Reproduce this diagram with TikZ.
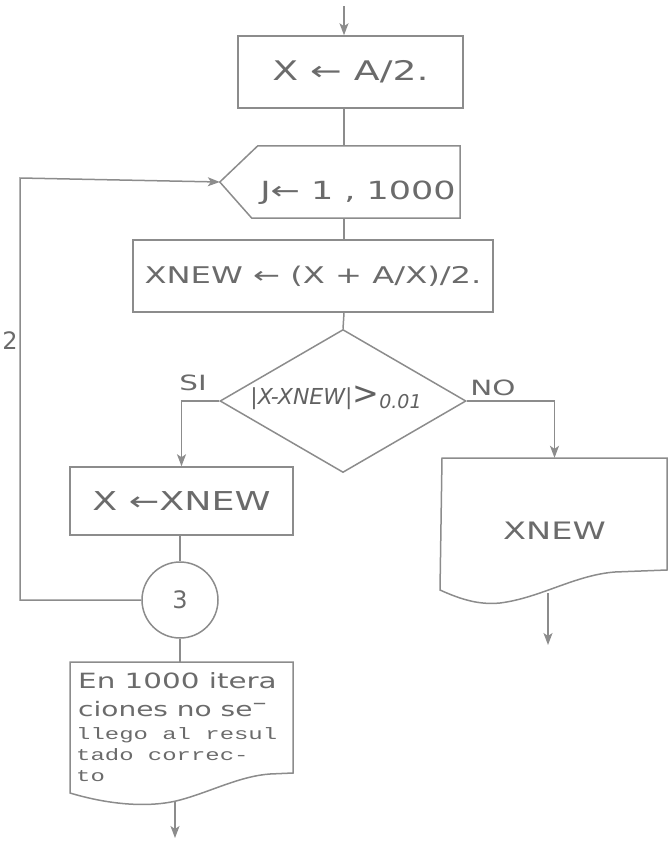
\documentclass[tikz,border=0pt]{standalone}
\usepackage{fontspec}
\setmainfont{DejaVu Sans}
\newfontfamily\wide[FakeStretch=1.4]{DejaVu Sans}
\newfontfamily\typew[FakeStretch=1.45]{Liberation Mono}
\usetikzlibrary{shapes.geometric,arrows.meta}
\tikzset{
  ln/.style={draw=black!45, line width=1.5pt},
  arr/.style={ln, -{Stealth[length=12pt,width=9pt,inset=3pt]}},
  txt/.style={text=black!58, inner sep=0pt},
  procbox/.style={ln, rectangle, inner sep=0pt, text=black!58},
  ghost/.style={draw=none, rectangle, inner sep=0pt},
}
\begin{document}
\begin{tikzpicture}[x=1pt,y=-1pt]
\useasboundingbox (0,0) rectangle (670,844);

% start
\coordinate (start) at (344,6);
% box 1
\node[procbox, minimum width=225pt, minimum height=72pt,
      font=\wide\fontsize{27}{30}\selectfont] (b1) at (350.5,72) {X ← A/2.};

% loop (preparation) shape
\node[ghost, minimum width=240pt, minimum height=72pt] (lp) at (340,182) {};
\draw[ln] (lp.west) -- ([xshift=38pt]lp.north west) -- (lp.north east)
          -- (lp.south east) -- ([xshift=32pt]lp.south west) -- cycle;
\node[txt, font=\wide\fontsize{25}{28}\selectfont] (jt) at (358,193) {J← 1 , 1000};

% box 3
\node[procbox, minimum width=360pt, minimum height=72pt,
      font=\wide\fontsize{23}{26}\selectfont] (b3) at (313,276) {XNEW ← (X + A/X)/2.};

% decision
\node[ln, diamond, minimum width=246pt, minimum height=143pt, inner sep=0pt] (d) at (343,401) {};
\node[txt, text=black!62] (dt) at (336,398)
  {{\itshape\fontsize{22}{24}\selectfont |X-XNEW|}{\fontsize{32}{32}\selectfont >}\raisebox{-4pt}{\itshape\fontsize{19}{19}\selectfont 0.01}};
\node[txt, font=\wide\fontsize{21}{24}\selectfont] (si) at (193,383) {SI};
\node[txt, font=\wide\fontsize{21}{24}\selectfont] (no) at (493,388) {NO};

% box 4
\node[procbox, minimum width=223pt, minimum height=68pt,
      font=\wide\fontsize{26}{28}\selectfont] (b4) at (181.5,501) {X ←XNEW};

% connector circle
\node[ln, circle, minimum size=76pt, inner sep=0pt, text=black!58,
      font=\fontsize{24}{26}\selectfont] (c) at (180,600) {3};

% output document XNEW
\node[ghost, minimum width=225pt, minimum height=145pt, text=black!58,
      font=\wide\fontsize{24}{26}\selectfont] (out) at (554.5,530.5) {XNEW};
\draw[ln] (442,458) -- (667,458) -- (667,570) -- (615,572)
   .. controls (575,575) and (540,598) .. (500,603)
   .. controls (480,605) and (462,600) .. (440,590) -- cycle;
\coordinate (outb) at (548,593);
\coordinate (oute) at (548,645);

% output document message
\node[ghost, minimum width=223pt, minimum height=141pt] (doc) at (181.5,732.5) {};
\draw[ln] (70,662) -- (293,662) -- (293,773) -- (270,774)
   .. controls (240,776) and (210,792) .. (180,800)
   .. controls (150,808) and (110,805) .. (70,793) -- cycle;
\node[txt, anchor=base west, font=\wide\fontsize{21}{24}\selectfont] (l1) at (78,688) {En 1000 itera};
\node[txt, anchor=base west, font=\wide\fontsize{20}{24}\selectfont] (l2) at (78,716) {ciones no se\raisebox{7pt}{–}};
\node[txt, anchor=base west, font=\typew\fontsize{16.5}{20}\selectfont] (l3) at (76,739) {llego al resul};
\node[txt, anchor=base west, font=\typew\fontsize{16.5}{20}\selectfont] (l4) at (76,760) {tado correc-};
\node[txt, anchor=base west, font=\typew\fontsize{16.5}{20}\selectfont] (l5) at (76,781) {to};
\coordinate (docb) at (175,801);
\coordinate (doce) at (175,838);

% loop-back label
\node[txt, font=\fontsize{24}{26}\selectfont] (two) at (10,341) {2};
\coordinate (lbl) at (20,600);
\coordinate (lbt) at (20,178);

% connectors
\draw[arr] (start) -- (start |- b1.north);
\draw[ln] (start |- b1.south) -- (start |- lp.north);
\draw[ln] (start |- lp.south) -- (start |- b3.north);
\draw[ln] (start |- b3.south) -- (d.north);
\draw[arr] (d.west) -| (b4.north);
\draw[arr] (d.east) -| (out.north);
\draw[ln] (c.north |- b4.south) -- (c.north);
\draw[arr] (c.west) -- (lbl) -- (lbt) -- (lp.west);
\draw[ln] (c.south) -- (c.south |- doc.north);
\draw[arr] (docb) -- (doce);
\draw[arr] (outb) -- (oute);
\end{tikzpicture}
\end{document}
